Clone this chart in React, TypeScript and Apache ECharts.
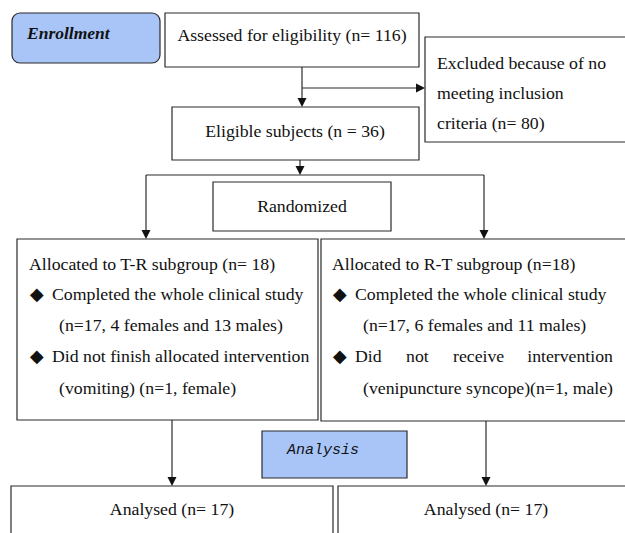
import React, { useEffect, useRef } from "react";
import * as echarts from "echarts";

// ---- data ----
const stageLabels = ["Enrollment", "Analysis"];
const screeningCounts = [116, 80, 36]; // assessed, excluded, eligible
const groupNames = ["T-R", "R-T"];
const allocatedCounts = [18, 18];
const completedCounts = [17, 17];
const completedFemales = [4, 6];
const completedMales = [13, 11];
const droppedCounts = [1, 1];
const droppedReasons = ["vomiting", "venipuncture syncope"];
const droppedSex = ["female", "male"];
const analysedCounts = [17, 17];

const SERIF = "Liberation Serif, Times New Roman, DejaVu Serif, serif";
const MONO = "Liberation Mono, DejaVu Sans Mono, monospace";
const FS = 17.75;
const STROKE = "#2a2a2a";
const BLUE = "#a9c5f8";

function txt(text: string, x: number, y: number, opts: any = {}) {
  return {
    type: "text",
    z: 10,
    style: {
      text,
      x,
      y,
      fill: "#111",
      fontFamily: opts.fontFamily || SERIF,
      fontSize: opts.fontSize || FS,
      fontStyle: opts.fontStyle || "normal",
      fontWeight: opts.fontWeight || "normal",
      align: opts.align || "left",
      verticalAlign: "middle",
    },
  };
}

function box(x: number, y: number, w: number, h: number, opts: any = {}) {
  return {
    type: "rect",
    shape: { x, y, width: w, height: h, r: opts.r || 0 },
    style: { fill: opts.fill || "#fff", stroke: opts.stroke || STROKE, lineWidth: opts.lw || 1.2 },
    z: 2,
  };
}

function seg(x1: number, y1: number, x2: number, y2: number) {
  return {
    type: "line",
    shape: { x1, y1, x2, y2 },
    style: { stroke: STROKE, lineWidth: 1.2 },
    z: 3,
  };
}

function arrowDown(x: number, y: number) {
  return {
    type: "polygon",
    shape: { points: [[x - 4.5, y - 9], [x + 4.5, y - 9], [x, y]] },
    style: { fill: "#111" },
    z: 4,
  };
}

function arrowRight(x: number, y: number) {
  return {
    type: "polygon",
    shape: { points: [[x - 9, y - 4.5], [x - 9, y + 4.5], [x, y]] },
    style: { fill: "#111" },
    z: 4,
  };
}

export default function App() {
  const ref = useRef<HTMLDivElement>(null);
  useEffect(() => {
    if (!ref.current) return;
    const chart = echarts.init(ref.current, null, { renderer: "svg" });
    const els: any[] = [];

    // Enrollment label
    els.push(box(12, 13, 148, 50, { r: 8, fill: BLUE }));
    els.push(txt(stageLabels[0], 27, 33, { fontWeight: "bold", fontStyle: "italic", fontSize: 17.5 }));

    // Assessed
    els.push(box(165, 13, 254, 54));
    els.push(txt(`Assessed for eligibility (n= ${screeningCounts[0]})`, 292, 35, { align: "center" }));

    // Excluded
    els.push(box(425, 37, 210, 105));
    els.push(txt("Excluded because of no", 437, 63));
    els.push(txt("meeting inclusion", 437, 93));
    els.push(txt(`criteria (n= ${screeningCounts[1]})`, 437, 123));

    // arrows from assessed
    els.push(seg(302, 67, 302, 100));
    els.push(arrowDown(302, 107));
    els.push(seg(302, 88, 418, 88));
    els.push(arrowRight(425, 88));

    // Eligible
    els.push(box(172, 107, 247, 53));
    els.push(txt(`Eligible subjects (n = ${screeningCounts[2]})`, 295, 131, { align: "center" }));

    // to randomization split
    els.push(seg(300, 160, 300, 167));
    els.push(arrowDown(300, 175));
    els.push(seg(146, 175, 484, 175));
    els.push(seg(146, 175, 146, 231));
    els.push(arrowDown(146, 239));
    els.push(seg(484, 175, 484, 231));
    els.push(arrowDown(484, 239));

    // Randomized
    els.push(box(213, 182, 178, 49));
    els.push(txt("Randomized", 302, 206, { align: "center" }));

    // Allocated boxes
    els.push(box(17, 239, 301, 181));
    els.push(box(321, 239, 320, 182));

    const ys = [264, 294, 325, 356, 388];
    // left group
    els.push(txt(`Allocated to ${groupNames[0]} subgroup (n= ${allocatedCounts[0]})`, 29, ys[0]));
    els.push(txt("\u25C6", 30, ys[1]));
    els.push(txt("Completed the whole clinical study", 52, ys[1]));
    els.push(txt(`(n=${completedCounts[0]}, ${completedFemales[0]} females and ${completedMales[0]} males)`, 59, ys[2]));
    els.push(txt("\u25C6", 30, ys[3]));
    els.push(txt("Did not finish allocated intervention", 52, ys[3]));
    els.push(txt(`(${droppedReasons[0]}) (n=${droppedCounts[0]}, ${droppedSex[0]})`, 59, ys[4]));

    // right group
    els.push(txt(`Allocated to ${groupNames[1]} subgroup (n=${allocatedCounts[1]})`, 332, ys[0]));
    els.push(txt("\u25C6", 333, ys[1]));
    els.push(txt("Completed the whole clinical study", 355, ys[1]));
    els.push(txt(`(n=${completedCounts[1]}, ${completedFemales[1]} females and ${completedMales[1]} males)`, 363, ys[2]));
    els.push(txt("\u25C6", 333, ys[3]));
    els.push(txt("Did", 355, ys[3]));
    els.push(txt("not", 406, ys[3]));
    els.push(txt("receive", 453, ys[3]));
    els.push(txt("intervention", 613, ys[3], { align: "right" }));
    els.push(txt(`(${droppedReasons[1]})(n=${droppedCounts[1]}, ${droppedSex[1]})`, 363, ys[4]));

    // arrows to analysis
    els.push(seg(172, 420, 172, 478));
    els.push(arrowDown(172, 486));
    els.push(seg(486, 421, 486, 478));
    els.push(arrowDown(486, 486));

    // Analysis label
    els.push(box(262, 431, 145, 47, { fill: BLUE }));
    els.push(
      txt(stageLabels[1], 287, 450, {
        fontFamily: MONO,
        fontStyle: "italic",
        fontSize: 15,
      })
    );

    // Analysed boxes
    els.push(box(11, 486, 322, 80));
    els.push(box(338, 486, 300, 80));
    els.push(txt(`Analysed (n= ${analysedCounts[0]})`, 172, 509, { align: "center" }));
    els.push(txt(`Analysed (n= ${analysedCounts[1]})`, 486, 509, { align: "center" }));

    chart.setOption({
      animation: false,
      backgroundColor: "#fff",
      graphic: { elements: els },
    });
    return () => chart.dispose();
  }, []);

  return (
    <div
      ref={ref}
      style={{ position: "fixed", left: 0, top: 0, width: 625, height: 533, background: "#fff" }}
    />
  );
}
